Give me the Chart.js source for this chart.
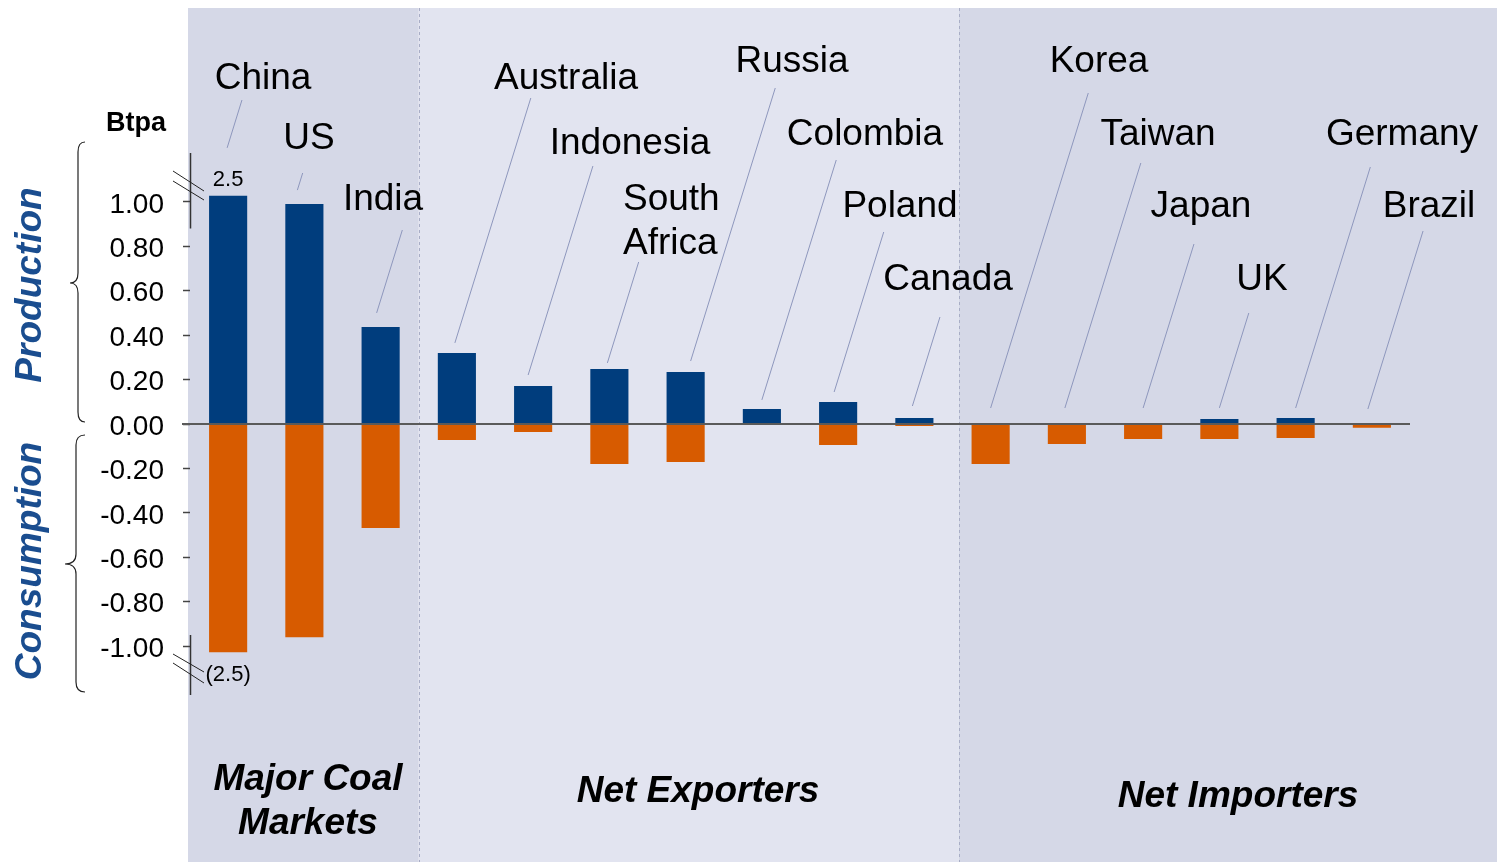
<!DOCTYPE html>
<html>
<head>
<meta charset="utf-8">
<title>Coal production and consumption</title>
<script src="https://cdn.jsdelivr.net/npm/chart.js@4.4.1/dist/chart.umd.min.js"></script>
<style>
  html, body { margin: 0; padding: 0; background: #fff; }
  #wrap { position: relative; width: 1497px; height: 862px; }
</style>
</head>
<body>
<div id="wrap"><canvas id="coal"></canvas></div>
<script>
// Coal production (positive) and consumption (negative), billion tonnes per annum
const countries = ['China', 'US', 'India', 'Australia', 'Indonesia', 'South Africa', 'Russia', 'Colombia',
                   'Poland', 'Canada', 'Korea', 'Taiwan', 'Japan', 'UK', 'Germany', 'Brazil'];
const production = [1.027, 0.99, 0.437, 0.32, 0.171, 0.248, 0.234, 0.068, 0.099, 0.027, 0, 0, 0, 0.023, 0.027, 0];
const consumption = [-1.027, -0.96, -0.468, -0.072, -0.036, -0.18, -0.171, 0, -0.095, -0.009, -0.18, -0.09, -0.068, -0.068, -0.063, -0.017];
const yTicks = [1.0, 0.8, 0.6, 0.4, 0.2, 0, -0.2, -0.4, -0.6, -0.8, -1.0];
const groups = ['Major Coal\nMarkets', 'Net Exporters', 'Net Importers'];
const breakLabels = ['2.5', '(2.5)'];

const FONT = '"Liberation Sans", Arial, sans-serif';
const BLUE = '#003d7d';
const ORANGE = '#d75b00';

// where each country name sits and how its leader line runs down to the bar
const callouts = [
  { x: 263, y: 79, top: 100, dx: -1, gap: 48 },
  { x: 309, y: 139, top: 173, dx: -7, gap: 14 },
  { x: 383, y: 200, top: 230, dx: -4, gap: 14 },
  { x: 566, y: 79, top: 98, dx: -2, gap: 10 },
  { x: 630, y: 144, top: 166, dx: -5, gap: 11 },
  { x: 623, y: 200, top: 262, dx: -2, gap: 6, left: true },
  { x: 792, y: 62, top: 88, dx: 5, gap: 11 },
  { x: 865, y: 135, top: 160, dx: 0, gap: 9 },
  { x: 900, y: 207, top: 232, dx: -4, gap: 10 },
  { x: 948, y: 280, top: 317, dx: -2, gap: 12 },
  { x: 1099, y: 62, top: 93, dx: 0, gap: 16 },
  { x: 1158, y: 135, top: 163, dx: -2, gap: 16 },
  { x: 1201, y: 207, top: 244, dx: 0, gap: 16 },
  { x: 1262, y: 280, top: 313, dx: 0, gap: 11 },
  { x: 1402, y: 135, top: 167, dx: 0, gap: 10 },
  { x: 1429, y: 207, top: 231, dx: -4, gap: 15 }
];
const leaderSlope = 0.31;

// category positions where the shaded group panels change
const panelEdges = [2.5, 9.58];

const panels = {
  id: 'panels',
  beforeDraw(chart) {
    const { ctx, scales: { x } } = chart;
    const a = x.getPixelForValue(panelEdges[0]);
    const b = x.getPixelForValue(panelEdges[1]);
    const left = chart.chartArea.left - 2;
    ctx.save();
    ctx.fillStyle = '#d5d8e7';
    ctx.fillRect(left, 8, a - left, chart.height - 8);
    ctx.fillStyle = '#e2e4f0';
    ctx.fillRect(a, 8, b - a, chart.height - 8);
    ctx.fillStyle = '#d5d8e7';
    ctx.fillRect(b, 8, chart.width - b, chart.height - 8);

    ctx.strokeStyle = '#a8adc6';
    ctx.lineWidth = 1;
    ctx.setLineDash([3, 3]);
    [a, b].forEach(px => {
      ctx.beginPath();
      ctx.moveTo(Math.round(px) + 0.5, 8);
      ctx.lineTo(Math.round(px) + 0.5, chart.height);
      ctx.stroke();
    });
    ctx.restore();
  }
};

function brace(ctx, xEnd, xSpine, xTip, y0, yMid, y1) {
  const r = 10;
  ctx.beginPath();
  ctx.moveTo(xEnd, y0);
  ctx.quadraticCurveTo(xSpine, y0, xSpine, y0 + r);
  ctx.lineTo(xSpine, yMid - r);
  ctx.quadraticCurveTo(xSpine, yMid, xTip, yMid);
  ctx.quadraticCurveTo(xSpine, yMid, xSpine, yMid + r);
  ctx.lineTo(xSpine, y1 - r);
  ctx.quadraticCurveTo(xSpine, y1, xEnd, y1);
  ctx.stroke();
}

const decorations = {
  id: 'decorations',
  afterDatasetsDraw(chart) {
    const { ctx, chartArea, scales: { x, y } } = chart;
    const zero = y.getPixelForValue(0);
    const axisX = chartArea.left + 0.5;

    ctx.save();
    // zero line
    ctx.strokeStyle = '#5a5a5a';
    ctx.lineWidth = 2;
    ctx.beginPath();
    ctx.moveTo(chartArea.left - 8, zero);
    ctx.lineTo(chartArea.right, zero);
    ctx.stroke();

    // broken value axis: only the ends are drawn
    ctx.strokeStyle = '#333';
    ctx.lineWidth = 1.5;
    ctx.beginPath();
    ctx.moveTo(axisX, chartArea.top);
    ctx.lineTo(axisX, y.getPixelForValue(0.88));
    ctx.moveTo(axisX, y.getPixelForValue(-0.95));
    ctx.lineTo(axisX, chartArea.bottom);
    ctx.stroke();

    // axis break marks beside the clipped China bars
    ctx.strokeStyle = '#222';
    ctx.lineWidth = 1;
    const l = chartArea.left;
    [[171, 191], [181, 200], [654, 672], [663, 683]].forEach(([ya, yb]) => {
      ctx.beginPath();
      ctx.moveTo(l - 17, ya);
      ctx.lineTo(l + 14, yb);
      ctx.stroke();
    });
    ctx.fillStyle = '#000';
    ctx.font = '22px ' + FONT;
    ctx.textAlign = 'center';
    ctx.textBaseline = 'middle';
    ctx.fillText(breakLabels[0], x.getPixelForValue(0), 180);
    ctx.fillText(breakLabels[1], x.getPixelForValue(0), 675);

    // country names with leader lines
    ctx.font = '37px ' + FONT;
    countries.forEach((name, i) => {
      const c = callouts[i];
      const barTop = Math.min(y.getPixelForValue(production[i]), zero);
      const bx = x.getPixelForValue(i) + c.dx;
      const by = barTop - c.gap;
      ctx.strokeStyle = '#8e97bd';
      ctx.lineWidth = 1;
      ctx.beginPath();
      ctx.moveTo(bx, by);
      ctx.lineTo(bx + leaderSlope * (by - c.top), c.top);
      ctx.stroke();

      ctx.fillStyle = '#000';
      if (c.left) {
        ctx.textAlign = 'left';
        name.split(' ').forEach((part, k) => ctx.fillText(part, c.x, c.y + k * 44));
      } else {
        ctx.textAlign = 'center';
        ctx.fillText(name, c.x, c.y);
      }
    });

    // unit
    ctx.textAlign = 'center';
    ctx.font = 'bold 27px ' + FONT;
    ctx.fillText('Btpa', 136, 124);

    // braces and side titles
    ctx.strokeStyle = '#222';
    ctx.lineWidth = 1.2;
    brace(ctx, 85, 78, 70, 142, 283, 422);
    brace(ctx, 85, 76, 65, 435, 564, 692);

    ctx.fillStyle = '#1a4d8f';
    ctx.font = 'italic bold 37px ' + FONT;
    [['Production', 285], ['Consumption', 561]].forEach(([t, cy]) => {
      ctx.save();
      ctx.translate(31, cy);
      ctx.rotate(-Math.PI / 2);
      ctx.fillText(t, 0, 0);
      ctx.restore();
    });

    // group titles under the panels
    ctx.fillStyle = '#000';
    ctx.font = 'italic bold 37px ' + FONT;
    const titlePos = [[308, 780], [698, 792], [1238, 797]];
    groups.forEach((g, k) => {
      g.split('\n').forEach((line, j) => ctx.fillText(line, titlePos[k][0], titlePos[k][1] + j * 44));
    });
    ctx.restore();
  }
};

new Chart(document.getElementById('coal'), {
  type: 'bar',
  data: {
    labels: countries,
    datasets: [
      { label: 'Production', data: production, backgroundColor: BLUE },
      { label: 'Consumption', data: consumption, backgroundColor: ORANGE }
    ]
  },
  options: {
    responsive: true,
    maintainAspectRatio: false,
    animation: false,
    layout: { padding: { top: 153, bottom: 167, left: 0, right: 87 } },
    datasets: { bar: { barPercentage: 0.5, categoryPercentage: 1, borderWidth: 0 } },
    plugins: { legend: { display: false }, tooltip: { enabled: false } },
    scales: {
      x: { stacked: true, display: false },
      y: {
        stacked: true,
        min: -1.22,
        max: 1.22,
        afterFit: s => { s.width = 190; },
        afterBuildTicks: s => { s.ticks = yTicks.map(v => ({ value: v })); },
        border: { display: false },
        grid: { drawOnChartArea: false, drawTicks: true, tickLength: 7, tickColor: '#444', tickWidth: 1.5 },
        ticks: {
          padding: 19,
          labelOffset: 3,
          color: '#000',
          font: { family: FONT, size: 28 },
          callback: v => Number(v).toFixed(2)
        }
      }
    }
  },
  plugins: [panels, decorations]
});
</script>
</body>
</html>
